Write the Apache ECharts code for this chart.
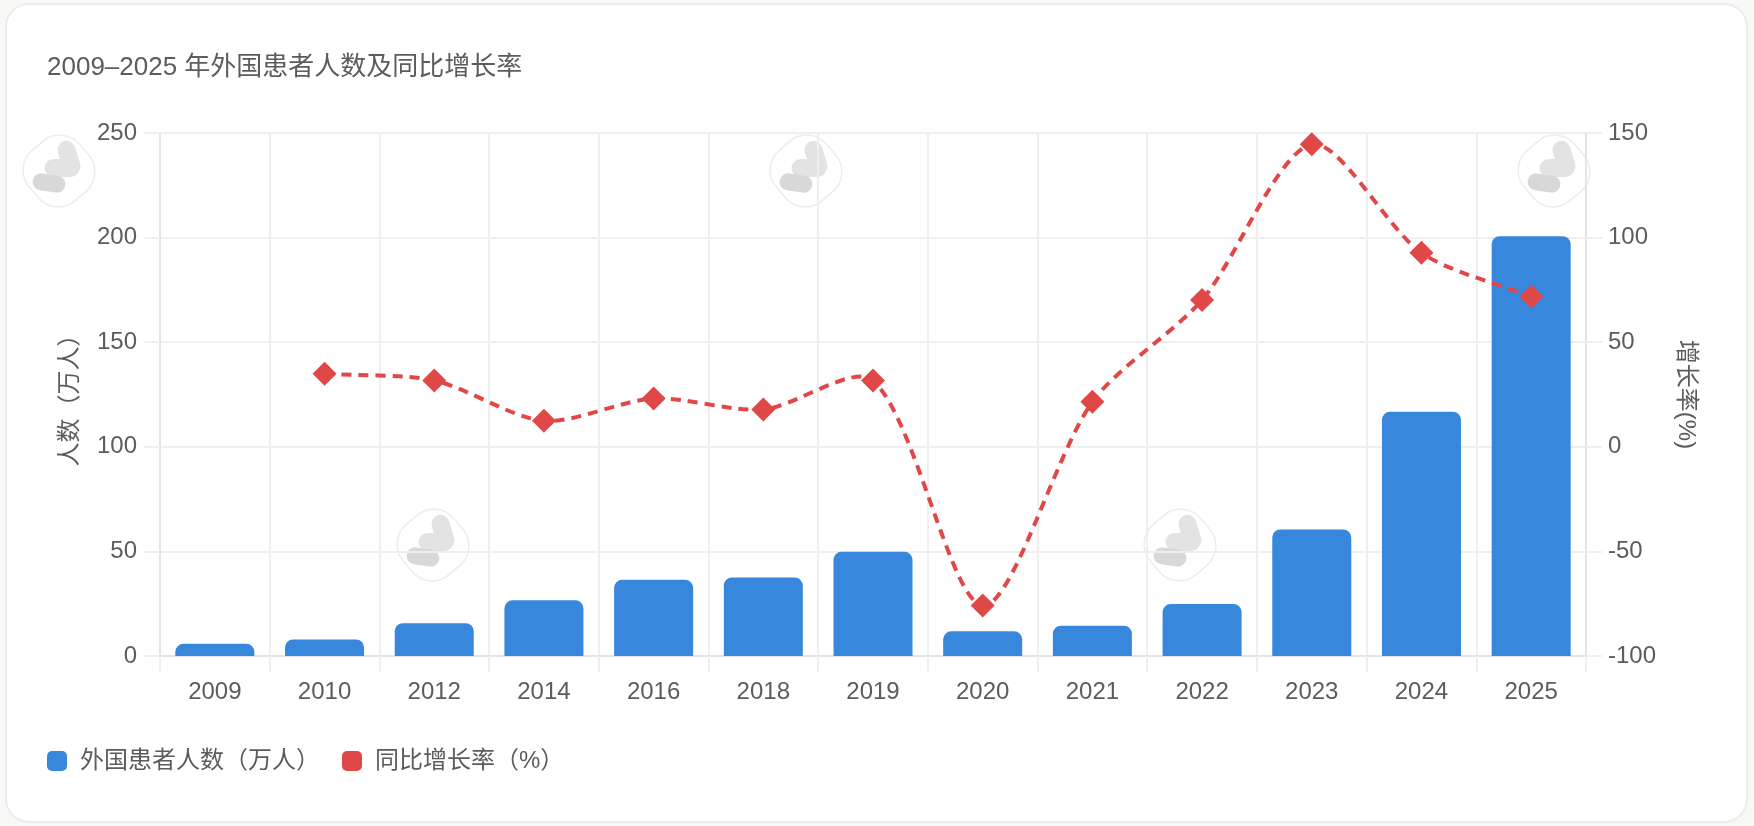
<!DOCTYPE html>
<html>
<head>
<meta charset="utf-8">
<title>外国患者人数及同比增长率</title>
<script src="https://cdn.jsdelivr.net/npm/echarts@6/dist/echarts.min.js"></script>
<style>
  html, body { margin: 0; padding: 0; background: #f8f8f6; }
  #card { position: absolute; left: 5px; top: 3px; width: 1739px; height: 816px; background: #fff; border: 2px solid #ececea; border-radius: 24px; box-sizing: content-box; }
  #chart { position: absolute; left: 0; top: 0; width: 1754px; height: 826px; }
</style>
</head>
<body>
<div id="card"></div>
<div id="chart"></div>
<script>
// 数据：柱状图为人数（万人），折线为同比增长率（%）
const years = ['2009', '2010', '2012', '2014', '2016', '2018', '2019', '2020', '2021', '2022', '2023', '2024', '2025'];
const patients = [5.8, 7.9, 15.7, 26.6, 36.4, 37.5, 49.8, 11.8, 14.5, 24.8, 60.5, 116.7, 200.7];
const growth = [null, 34.9, 31.7, 12.4, 23.1, 17.8, 31.7, -75.9, 21.5, 70.2, 144.6, 92.7, 71.8];
const watermarks = [[59, 171], [806, 171], [1554, 171], [433, 545], [1180, 545]];

const fontFamily = '"Liberation Sans", "Noto Sans CJK SC", sans-serif';
const textColor = '#5c5c5c';
const gridColor = '#efefef';
const axisColor = '#e4e4e4';
const red = '#e04848';
const tension = 0.28;

// 水印：旋转圆角方框加三段灰色胶囊
const pill = (x, y, w, h, rot, fill) => ({
  type: 'rect', x: x, y: y, rotation: rot, silent: true,
  shape: { x: -w / 2, y: -h / 2, width: w, height: h, r: h / 2 },
  style: { fill: fill }
});
const watermark = (pos) => ({
  type: 'group', x: pos[0], y: pos[1], silent: true, z: 0,
  children: [
    { type: 'rect', rotation: -Math.PI / 4 - 0.08, silent: true,
      shape: { x: -33, y: -33, width: 66, height: 66, r: 26 },
      style: { fill: 'rgba(255,255,255,0)', stroke: '#ededed', lineWidth: 1.5 } },
    pill(10, -13, 18, 35, 0.3, '#e3e3e3'),
    pill(3, -3, 35, 18, 0, '#e3e3e3'),
    pill(-10, 12, 33, 17, -0.14, '#d8d8d8')
  ]
});

// 内置 smooth 会把控制点夹在相邻点之间，这里用 api.coord 换算后自己连贝塞尔曲线，允许过冲
const renderCurve = (params, api) => {
  if (params.dataIndex !== years.length - 1) return;
  const pts = [];
  growth.forEach((v, i) => { if (v !== null) pts.push(api.coord([i, v])); });
  const dist = (a, b) => Math.hypot(a[0] - b[0], a[1] - b[1]);
  const cps = pts.map((p, i) => {
    const a = pts[Math.max(i - 1, 0)], b = pts[Math.min(i + 1, pts.length - 1)];
    const d01 = dist(a, p), d12 = dist(p, b), sum = (d01 + d12) || 1;
    const fa = tension * d01 / sum, fb = tension * d12 / sum;
    return {
      prev: [p[0] - fa * (b[0] - a[0]), p[1] - fa * (b[1] - a[1])],
      next: [p[0] + fb * (b[0] - a[0]), p[1] + fb * (b[1] - a[1])]
    };
  });
  let d = 'M' + pts[0].join(' ');
  for (let i = 1; i < pts.length; i++) {
    d += ' C' + cps[i - 1].next.join(' ') + ' ' + cps[i].prev.join(' ') + ' ' + pts[i].join(' ');
  }
  return {
    type: 'path', shape: { pathData: d }, silent: true,
    style: { fill: 'none', stroke: red, lineWidth: 4, lineDash: [10, 7] }
  };
};

const chart = echarts.init(document.getElementById('chart'));
chart.setOption({
  animation: false,
  textStyle: { fontFamily: fontFamily },
  title: {
    text: '2009–2025 年外国患者人数及同比增长率',
    left: 42, top: 50,
    textStyle: { fontFamily: fontFamily, fontSize: 26, fontWeight: 'normal', color: textColor }
  },
  legend: {
    left: 42, top: 744, itemWidth: 20, itemHeight: 20, itemGap: 22,
    textStyle: { fontFamily: fontFamily, fontSize: 24, color: textColor, padding: [0, 0, 0, 8] },
    data: [
      { name: '外国患者人数（万人）', icon: 'roundRect' },
      { name: '同比增长率（%）', icon: 'roundRect' }
    ]
  },
  grid: { left: 160, right: 168, top: 133, bottom: 170 },
  xAxis: {
    type: 'category', data: years,
    axisLine: { lineStyle: { color: axisColor, width: 2 } },
    axisTick: { show: true, length: 16, lineStyle: { color: gridColor, width: 2 } },
    axisLabel: { color: textColor, fontSize: 24, margin: 24 },
    splitLine: { show: true, lineStyle: { color: gridColor, width: 2 } }
  },
  yAxis: [
    {
      type: 'value', min: 0, max: 250, interval: 50,
      name: '人数（万人）', nameLocation: 'middle', nameGap: 78,
      nameTextStyle: { color: textColor, fontSize: 24 },
      axisLine: { show: true, lineStyle: { color: axisColor, width: 2 } },
      axisTick: { show: true, length: 16, lineStyle: { color: gridColor, width: 2 } },
      axisLabel: { color: textColor, fontSize: 24, margin: 23, padding: [4, 0, 0, 0] },
      splitLine: { show: true, lineStyle: { color: gridColor, width: 2 } }
    },
    {
      type: 'value', min: -100, max: 150, interval: 50, position: 'right',
      name: '增长率(%)', nameLocation: 'middle', nameGap: 88, nameRotate: -90,
      nameTextStyle: { color: textColor, fontSize: 24 },
      axisLine: { show: true, lineStyle: { color: axisColor, width: 2 } },
      axisTick: { show: true, length: 16, lineStyle: { color: gridColor, width: 2 } },
      axisLabel: { color: textColor, fontSize: 24, margin: 22, padding: [4, 0, 0, 0] },
      splitLine: { show: false }
    }
  ],
  series: [
    {
      name: '外国患者人数（万人）', type: 'bar', data: patients, barWidth: 79, z: 2,
      itemStyle: { color: '#3788dd', borderRadius: [8, 8, 0, 0] }
    },
    {
      name: '增长率曲线', type: 'custom', yAxisIndex: 1, z: 3, silent: true,
      data: growth.map((v, i) => [i, v === null ? 0 : v]),
      encode: { x: 0, y: 1 },
      renderItem: renderCurve
    },
    {
      name: '同比增长率（%）', type: 'line', yAxisIndex: 1, data: growth, z: 4,
      symbol: 'diamond', symbolSize: 24,
      lineStyle: { opacity: 0 },
      itemStyle: { color: red }
    }
  ],
  graphic: watermarks.map(watermark)
});
</script>
</body>
</html>
